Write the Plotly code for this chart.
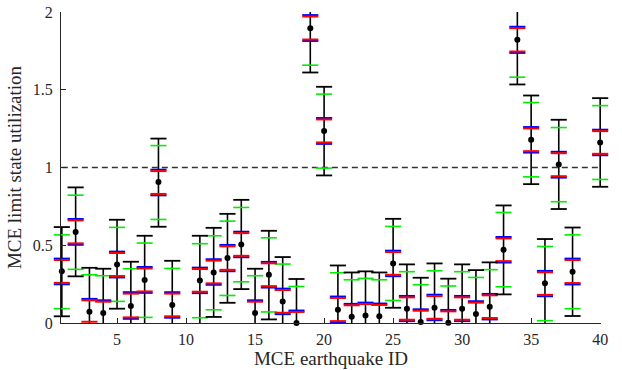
import plotly.graph_objects as go

# Earthquake IDs present in the chart (10 and 39 have no data)
eq_id = [1, 2, 3, 4, 5, 6, 7, 8, 9, 11, 12, 13, 14, 15, 16, 17, 18, 19, 20,
         21, 22, 23, 24, 25, 26, 27, 28, 29, 30, 31, 32, 33, 34, 35, 36, 37, 38, 40]

# Central value (black dot)
median = [0.332, 0.585, 0.073, 0.064, 0.377, 0.109, 0.276, 0.906, 0.116, 0.274,
          0.325, 0.418, 0.505, 0.064, 0.310, 0.139, 0.000, 1.896, 1.234, 0.085,
          0.040, 0.049, 0.043, 0.383, 0.092, 0.006, 0.098, 0.002, 0.092, 0.058,
          0.105, 0.471, 1.821, 1.178, 0.255, 1.019, 0.330, 1.161]

# Black whiskers (max / min)
black_hi = [0.617, 0.872, 0.355, 0.349, 0.664, 0.394, 0.561, 1.186, 0.400, 0.561,
            0.612, 0.702, 0.792, 0.349, 0.593, 0.424, 0.283, 2.180, 1.519, 0.370,
            0.325, 0.332, 0.325, 0.670, 0.377, 0.291, 0.383, 0.285, 0.377, 0.340,
            0.390, 0.756, 2.106, 1.463, 0.540, 1.307, 0.614, 1.446]
black_lo = [0.043, 0.300, -0.210, -0.220, 0.092, -0.170, -0.011, 0.619, -0.170, -0.013,
            0.039, 0.130, 0.218, -0.220, 0.023, -0.150, -0.290, 1.611, 0.949, -0.200,
            -0.245, -0.240, -0.240, 0.098, -0.190, -0.280, -0.190, -0.285, -0.190, -0.230,
            -0.180, 0.184, 1.534, 0.893, -0.030, 0.733, 0.045, 0.876]

# Green bounds
green_hi = [0.567, 0.822, 0.310, 0.304, 0.615, 0.349, 0.514, 1.141, 0.351, 0.510,
            0.561, 0.655, 0.743, 0.304, 0.548, 0.379, 0.235, 2.130, 1.472, 0.323,
            0.278, 0.287, 0.278, 0.621, 0.330, 0.246, 0.336, 0.238, 0.330, 0.293,
            0.343, 0.711, 2.056, 1.418, 0.492, 1.257, 0.567, 1.398]
green_lo = [0.092, 0.345, -0.160, -0.170, 0.139, -0.120, 0.036, 0.666, -0.120, 0.034,
            0.085, 0.177, 0.265, -0.170, 0.071, -0.100, -0.240, 1.658, 0.996, -0.150,
            -0.195, -0.190, -0.190, 0.145, -0.140, -0.230, -0.140, -0.235, -0.140, -0.180,
            -0.130, 0.233, 1.581, 0.940, 0.015, 0.780, 0.092, 0.923]

# Blue bounds
blue_hi = [0.414, 0.669, 0.155, 0.146, 0.459, 0.198, 0.360, 0.986, 0.198, 0.356,
           0.410, 0.502, 0.587, 0.146, 0.393, 0.221, 0.080, 1.980, 1.318, 0.170,
           0.123, 0.131, 0.125, 0.465, 0.174, 0.088, 0.182, 0.084, 0.174, 0.140,
           0.187, 0.553, 1.905, 1.260, 0.335, 1.101, 0.414, 1.243]
blue_lo = [0.249, 0.503, -0.001, -0.015, 0.293, 0.027, 0.194, 0.821, 0.034, 0.192,
           0.246, 0.333, 0.423, -0.018, 0.228, 0.057, -0.085, 1.814, 1.152, 0.003,
           -0.042, -0.035, -0.040, 0.301, 0.012, -0.075, 0.018, -0.080, 0.012, -0.025,
           0.023, 0.389, 1.737, 1.096, 0.172, 0.935, 0.248, 1.079]

# Red bounds
red_hi = [0.405, 0.660, 0.146, 0.137, 0.450, 0.189, 0.351, 0.977, 0.189, 0.347,
          0.401, 0.493, 0.578, 0.137, 0.384, 0.212, 0.071, 1.971, 1.309, 0.161,
          0.114, 0.122, 0.116, 0.456, 0.165, 0.079, 0.173, 0.075, 0.165, 0.131,
          0.178, 0.544, 1.896, 1.251, 0.326, 1.092, 0.405, 1.234]
red_lo = [0.258, 0.512, 0.008, -0.006, 0.302, 0.036, 0.203, 0.830, 0.043, 0.201,
          0.255, 0.342, 0.432, -0.009, 0.237, 0.066, -0.076, 1.823, 1.161, 0.012,
          -0.033, -0.026, -0.031, 0.310, 0.021, -0.066, 0.027, -0.071, 0.021, -0.016,
          0.032, 0.398, 1.746, 1.105, 0.181, 0.944, 0.257, 1.088]

limit_value = 1.0
x_ticks = [5, 10, 15, 20, 25, 30, 35, 40]
y_ticks = [0, 0.5, 1, 1.5, 2]

FONT = "Liberation Serif"
CAP = 11.5  # line-ew marker size -> ~16 px long

fig = go.Figure()

# stems
sx, sy = [], []
for x, lo, hi in zip(eq_id, black_lo, black_hi):
    sx += [x, x, None]
    sy += [lo, hi, None]
fig.add_trace(go.Scatter(x=sx, y=sy, mode="lines",
                         line=dict(color="black", width=1.6), hoverinfo="skip"))

# limit line
fig.add_trace(go.Scatter(x=[1, 40], y=[limit_value, limit_value], mode="lines",
                         line=dict(color="#333333", width=1.3, dash="6px,4px"),
                         hoverinfo="skip"))


def caps(yvals, color, width):
    fig.add_trace(go.Scatter(
        x=eq_id + eq_id, y=yvals, mode="markers", cliponaxis=False,
        marker=dict(symbol="line-ew", size=CAP, color=color,
                    line=dict(color=color, width=width)),
        hoverinfo="skip"))


caps(green_hi + green_lo, "#00ee00", 1.6)
caps(blue_hi + blue_lo, "#0000ff", 2)
caps(red_hi + red_lo, "#ff0000", 2)
caps(black_hi + black_lo, "black", 1.8)

fig.add_trace(go.Scatter(x=eq_id, y=median, mode="markers", cliponaxis=False,
                         marker=dict(symbol="circle", size=6, color="black"),
                         hoverinfo="skip"))

fig.update_layout(
    width=622, height=370,
    margin=dict(l=61, r=21, t=12, b=47),
    paper_bgcolor="white", plot_bgcolor="white",
    showlegend=False,
    font=dict(family=FONT, size=16, color="#262626"),
)
fig.update_xaxes(
    range=[0.94, 40.06], tickvals=x_ticks, ticks="inside", ticklen=5,
    tickcolor="#262626", showline=True, linecolor="#262626", linewidth=1,
    showgrid=False, zeroline=False, automargin=False, ticklabelstandoff=2,
    tickfont=dict(family=FONT, size=16, color="#262626"),
    title=dict(text="MCE earthquake ID", font=dict(family=FONT, size=19, color="#262626"),
               standoff=2),
)
fig.update_yaxes(
    range=[0, 2], tickvals=y_ticks, ticktext=["0", "0.5", "1", "1.5", "2"],
    ticks="inside", ticklen=5,
    tickcolor="#262626", showline=True, linecolor="#262626", linewidth=1,
    showgrid=False, zeroline=False, automargin=False, ticklabelstandoff=4,
    tickfont=dict(family=FONT, size=16, color="#262626"),
    title=dict(text="MCE limit state utilization",
               font=dict(family=FONT, size=19, color="#262626"), standoff=6),
)

fig.write_html("out.html")
